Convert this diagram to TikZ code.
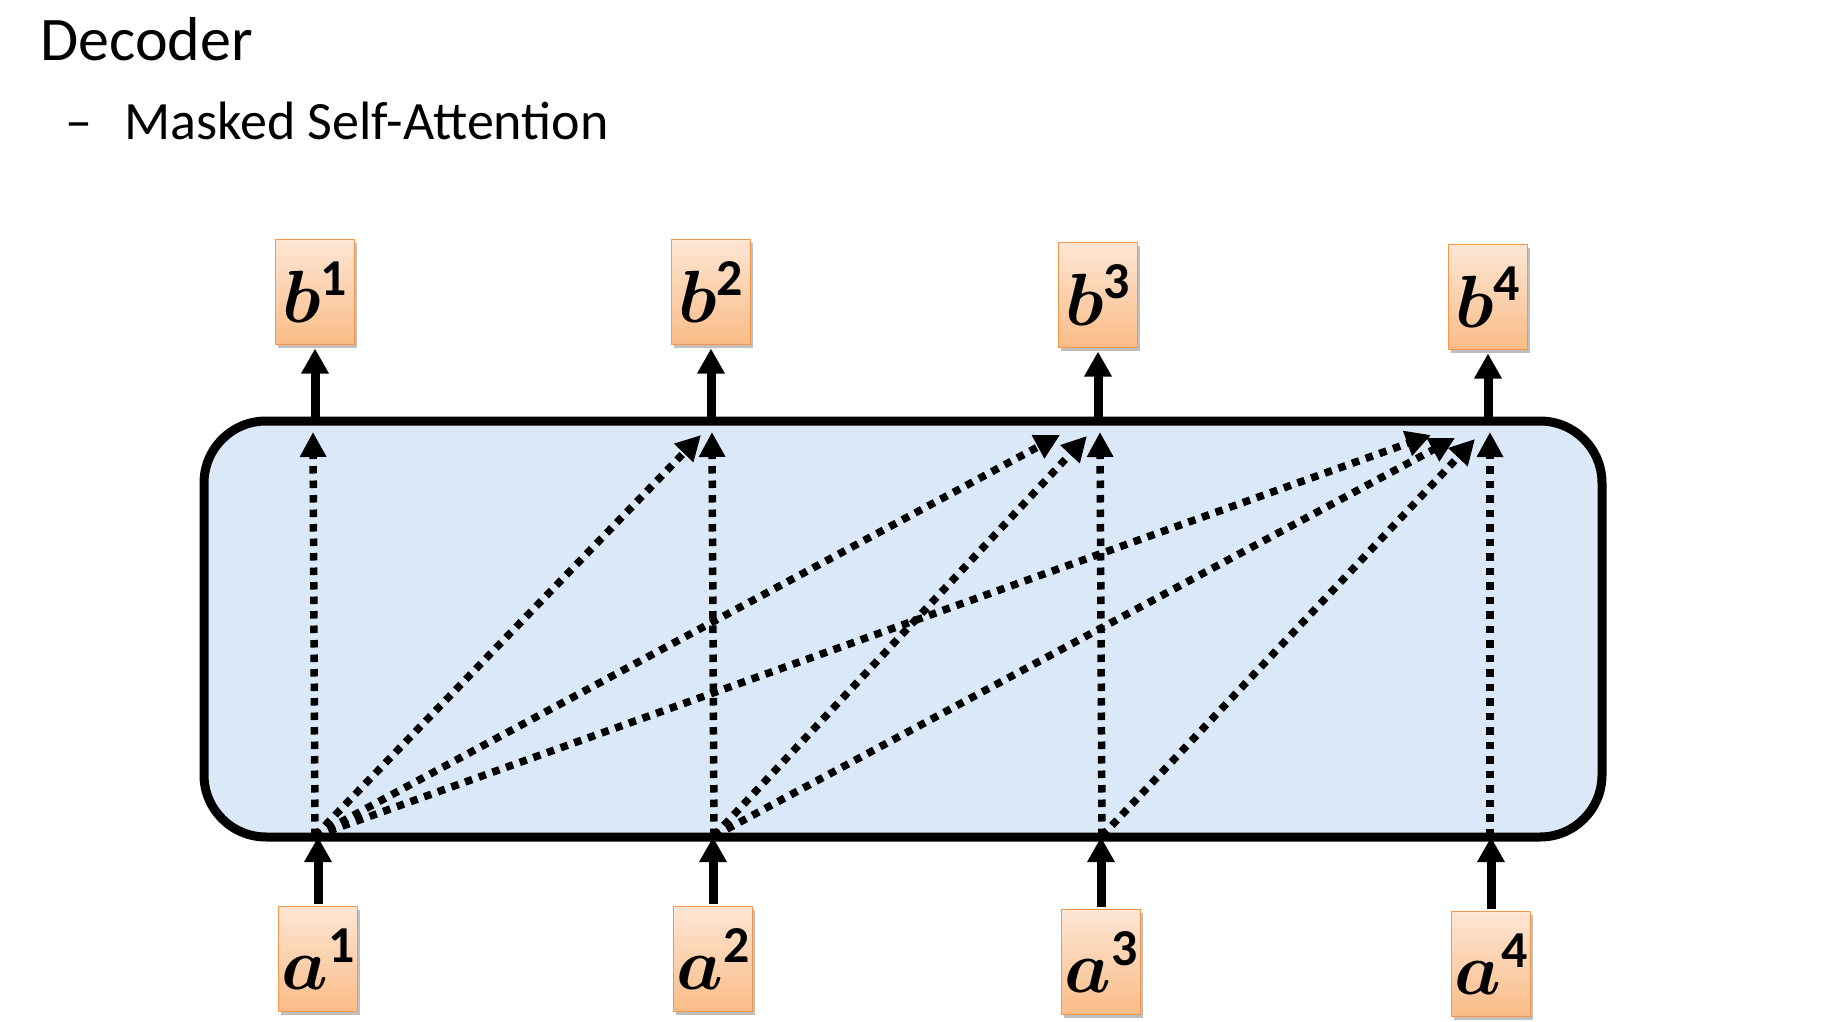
\RequirePackage{fix-cm}
\documentclass[tikz,border=0pt]{standalone}
\usepackage{fontspec}
\setmainfont{Carlito}
\usepackage{bm}
\usetikzlibrary{arrows.meta,shadows}

\definecolor{boxtop}{RGB}{253,230,212}
\definecolor{boxbot}{RGB}{250,188,135}
\definecolor{boxline}{RGB}{247,150,70}
\definecolor{layerfill}{RGB}{218,232,247}

\begin{document}
\begin{tikzpicture}[x=1pt, y=-1pt,
  vec/.style={draw=boxline, line width=1.5pt, top color=boxtop, bottom color=boxbot,
    minimum width=79pt, minimum height=105pt, inner sep=0pt, outer sep=0pt,
    font=\fontsize{74}{74}\selectfont,
    drop shadow={shadow xshift=2pt, shadow yshift=-3pt, fill=black, opacity=0.25}},
  layerbox/.style={draw=black, line width=9pt, rounded corners=62pt, fill=layerfill,
    minimum width=1398pt, minimum height=416pt, inner sep=0pt, outer sep=0pt,
    drop shadow={shadow xshift=2pt, shadow yshift=-4pt, fill=black, opacity=0.2}},
  flow/.style={line width=9pt, -{Triangle[width=26pt,length=25pt]}},
  attn/.style={line width=7.5pt, dash pattern=on 7.5pt off 7pt, -{Triangle[width=25pt,length=25pt]}}]
\useasboundingbox (0,0) rectangle (1832,1022);
\node[anchor=base west, font=\fontsize{62}{70}\selectfont] (title) at (37,61) {Decoder};
\node[anchor=base west, font=\fontsize{54}{60}\selectfont] (subtitle) at (62,140) {–\hspace{32pt}Masked Self-Attention};
\node[layerbox] (layer) at (903,629) {};
\node[vec] (b1) at (315,292) {$\bm{b}^{\mathbf{1}}$};
\node[vec] (b2) at (711,292) {$\bm{b}^{\mathbf{2}}$};
\node[vec] (b3) at (1098,295) {$\bm{b}^{\mathbf{3}}$};
\node[vec] (b4) at (1488,297) {$\bm{b}^{\mathbf{4}}$};
\node[vec] (a1) at (318,959) {$\bm{a}^{\mathbf{1}}$};
\node[vec] (a2) at (713,959) {$\bm{a}^{\mathbf{2}}$};
\node[vec] (a3) at (1101,962) {$\bm{a}^{\mathbf{3}}$};
\node[vec] (a4) at (1491,964) {$\bm{a}^{\mathbf{4}}$};
\coordinate (in1) at (315,836);
\coordinate (in2) at (714,836);
\coordinate (in3) at (1102,836);
\coordinate (in4) at (1490,836);
\coordinate (out1) at (313,432);
\coordinate (out2) at (712,432);
\coordinate (out3) at (1100,432);
\coordinate (out4) at (1490,432);
\draw[flow, shorten >=4pt] (layer.north -| b1) -- (b1.south);
\draw[flow, shorten >=4pt] (layer.north -| b2) -- (b2.south);
\draw[flow, shorten >=4pt] (layer.north -| b3) -- (b3.south);
\draw[flow, shorten >=4pt] (layer.north -| b4) -- (b4.south);
\draw[flow, shorten <=3pt] (a1.north) -- (layer.south -| a1);
\draw[flow, shorten <=3pt] (a2.north) -- (layer.south -| a2);
\draw[flow, shorten <=3pt] (a3.north) -- (layer.south -| a3);
\draw[flow, shorten <=3pt] (a4.north) -- (layer.south -| a4);
\draw[attn] (in1) -- (out1);
\draw[attn] (in1) -- ([xshift=-11pt,yshift=-3pt]out2);
\draw[attn] (in2) -- (out2);
\draw[attn] (in1) -- ([xshift=-40pt,yshift=-3pt]out3);
\draw[attn] (in2) -- ([xshift=-13pt,yshift=-4pt]out3);
\draw[attn] (in3) -- (out3);
\draw[attn] (in1) -- ([xshift=-59pt,yshift=-3pt]out4);
\draw[attn] (in2) -- ([xshift=-35pt,yshift=-6pt]out4);
\draw[attn] (in3) -- ([xshift=-15pt,yshift=-7pt]out4);
\draw[attn] (in4) -- (out4);
\end{tikzpicture}
\end{document}
